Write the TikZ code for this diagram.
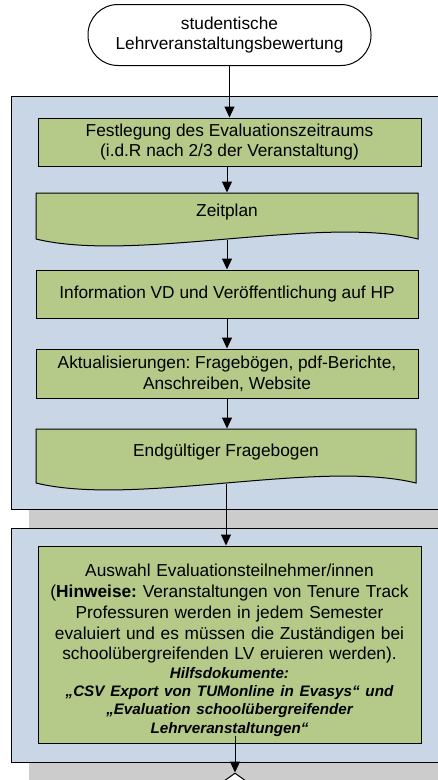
\documentclass[tikz,border=0pt]{standalone}
\usepackage{fontspec}
\setmainfont{Liberation Sans}
\usetikzlibrary{arrows.meta,shapes}
\frenchspacing

\definecolor{lanefill}{RGB}{200,214,230}
\definecolor{stepfill}{RGB}{181,201,137}
\definecolor{shadefill}{RGB}{204,204,204}

\newcommand{\hintfont}{\fontsize{15.2}{18.3}\selectfont\bfseries\itshape}

\begin{document}
\begin{tikzpicture}[x=1pt, y=-1pt, line width=1pt, >={Triangle[length=11pt,width=10pt]},
  every node/.style={font=\fontsize{17.3}{20.8}\selectfont, align=center, inner sep=0pt},
  term/.style={rectangle, draw, fill=white, rounded corners=30pt, minimum width=283pt, minimum height=61pt},
  stepbox/.style={rectangle, draw, fill=stepfill, minimum width=383pt, minimum height=48pt},
  docbox/.style={rectangle, minimum width=382pt},
  docline/.style={draw=black, fill=stepfill},
  lane/.style={draw, fill=lanefill},
  dec/.style={diamond, draw, fill=white, minimum width=70pt, minimum height=50pt}]

\clip (0,0) rectangle (438,780);

% lanes
\fill[shadefill] (29,508) rectangle (450,790);
\draw[lane] (11,96) rectangle (450,509);
\draw[lane] (11,528) rectangle (450,762);

\node[term] (start) at (229.5,35) {studentische\\Lehrveranstaltungsbewertung};
\node[stepbox] (zeitraum) at (229.5,142) {Festlegung des Evaluationszeitraums\\(i.d.R nach 2/3 der Veranstaltung)};
\filldraw[docline] (36,193) -- (418,193) -- (418,239)
  .. controls (320,215) and (134,263) .. (36,239) -- cycle
  (227,212.5) node[docbox, minimum height=39pt] (zeitplan) {Zeitplan};
\node[stepbox, minimum width=382pt] (info) at (227,294) {Information VD und Veröffentlichung auf HP};
\node[stepbox, minimum width=382pt, minimum height=49pt] (update) at (227,373.5) {Aktualisierungen: Fragebögen, pdf-Berichte,\\Anschreiben, Website};
\filldraw[docline] (36,429) -- (416,429) -- (416,483)
  .. controls (318,459) and (134,507) .. (36,483) -- cycle
  (226,452.5) node[docbox, minimum width=380pt, minimum height=47pt] (frage) {Endgültiger Fragebogen};
\node[stepbox, minimum height=197pt, text width=383pt] (auswahl) at (229.5,644.5)
  {\rule{0pt}{24pt}Auswahl Evaluationsteilnehmer/innen\\(\textbf{Hinweise:} Veranstaltungen von Tenure Track\\Professuren werden in jedem Semester\\evaluiert und es müssen die Zuständigen bei\\schoolübergreifenden LV eruieren werden).\par
   {\hintfont Hilfsdokumente:\\„CSV Export von TUMonline in Evasys“ und\\„Evaluation schoolübergreifender\\Lehrveranstaltungen“\par}};
\node[dec] (check) at (235,798) {};

% connectors
\draw[->] (start) -- (zeitraum);
\draw[->] (zeitplan.north |- zeitraum.south) -- (zeitplan.north);
\draw[->] ([yshift=-7pt]zeitplan.south) -- (info);
\draw[->] (info) -- (update);
\draw[->] (update.south) -- (update.south |- frage.north);
\draw[->] ([yshift=-7pt]frage.south) -- (frage.south |- auswahl.north);
\draw[->] ([yshift=8pt]auswahl.south -| check.north) -- (check.north);
\end{tikzpicture}
\end{document}
